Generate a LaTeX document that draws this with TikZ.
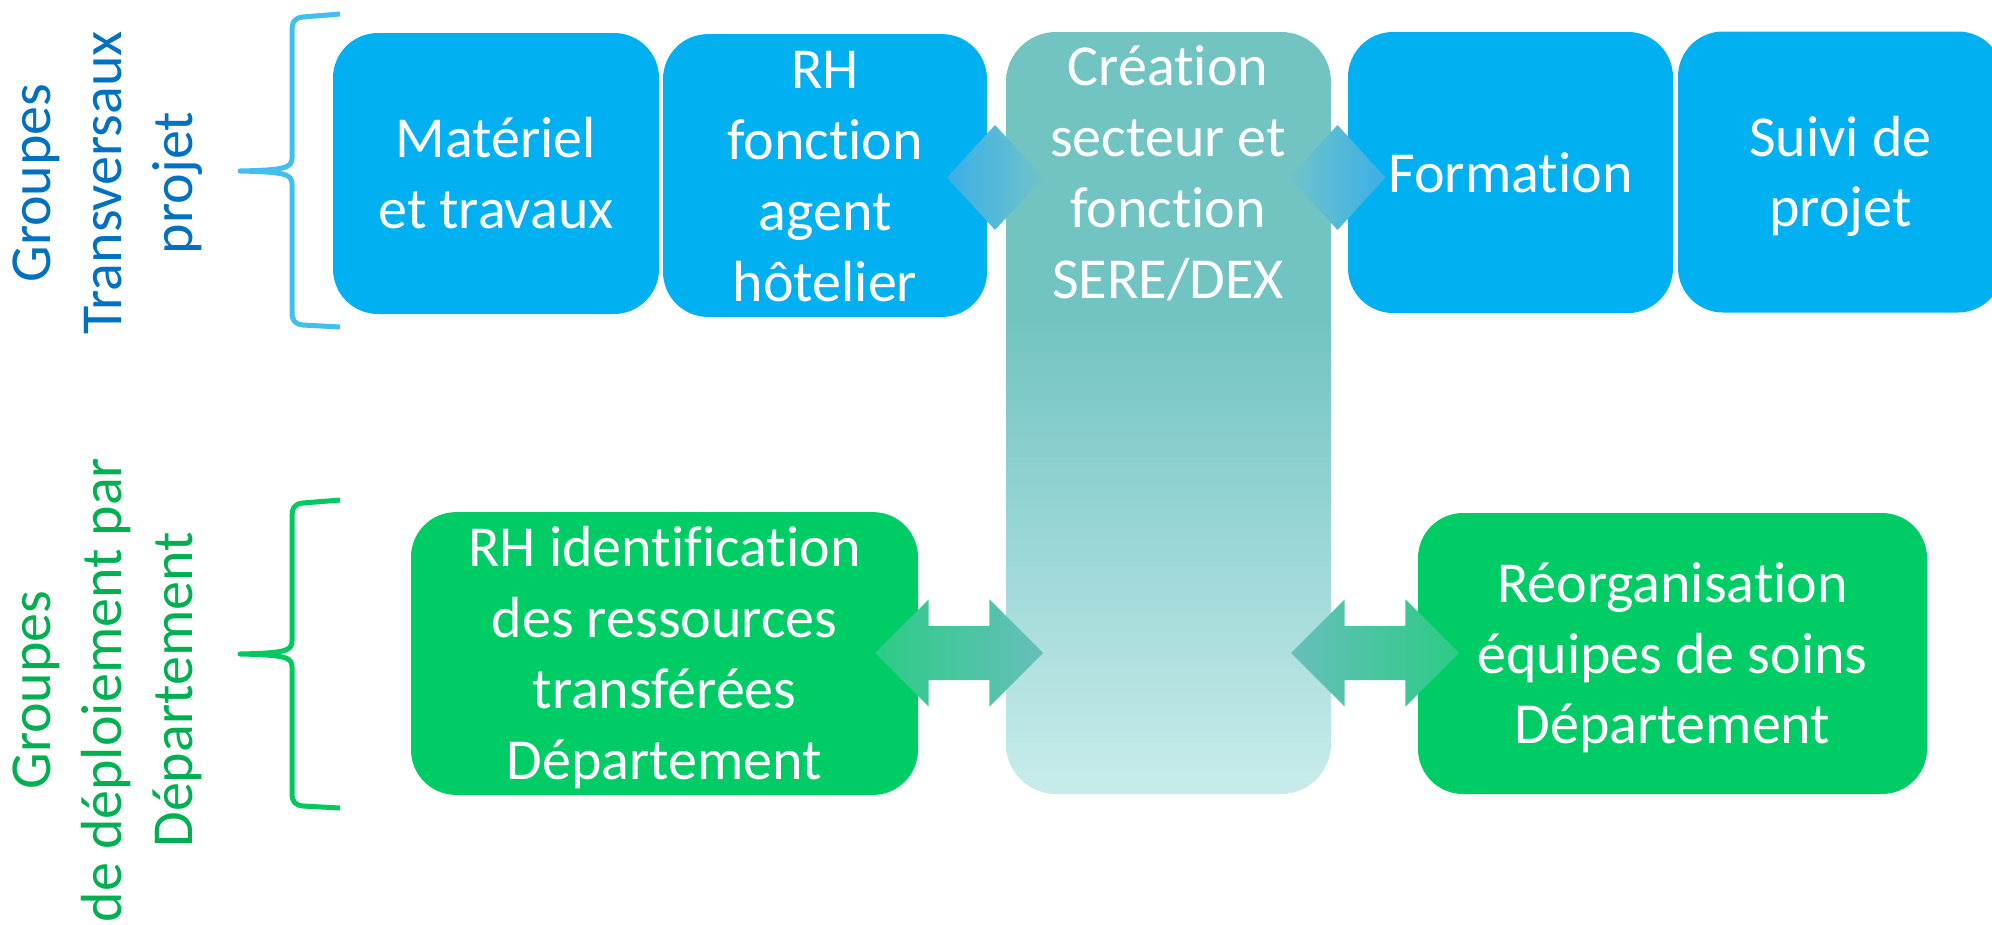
\documentclass[tikz,border=0pt]{standalone}
\usepackage{fontspec}
\setmainfont{Carlito}[Ligatures={NoRequired,NoCommon,NoContextual,NoRare}, RawFeature={-liga;-clig;-dlig;-calt;-rlig;-hlig}]
\usetikzlibrary{shapes.geometric,shapes.arrows}
\definecolor{topblue}{HTML}{00B0F0}
\definecolor{boxgreen}{HTML}{00CC66}
\definecolor{coltop}{HTML}{72C4C3}
\definecolor{colbot}{HTML}{C8ECEB}
\definecolor{dblue}{HTML}{3BAFE8}
\definecolor{dteal}{HTML}{6FC3C8}
\definecolor{agreen}{HTML}{2CCB86}
\definecolor{ateal}{HTML}{66BFBA}
\definecolor{braceblue}{HTML}{42BFEF}
\definecolor{bracegreen}{HTML}{00C95E}
\definecolor{lblblue}{HTML}{0070C0}
\definecolor{lblgreen}{HTML}{00B050}
\pgfdeclareverticalshading{colshade}{100bp}{color(0bp)=(colbot); color(25bp)=(colbot); color(56bp)=(coltop); color(100bp)=(coltop)}
\newcommand\St{\rule[-15.85pt]{0pt}{70.7pt}}
\newcommand\nolig{\kern0pt }
\begin{document}
\begin{tikzpicture}[x=1pt,y=-1pt,
  every node/.style={inner sep=0pt, outer sep=0pt},
  txt/.style={text=white, align=center, font=\fontsize{58}{70.7}\selectfont},
  card/.style={txt, rectangle, rounded corners=45pt},
  bluecard/.style={card, fill=topblue, minimum height=281pt},
  greencard/.style={card, fill=boxgreen, minimum height=281pt},
  colbox/.style={rectangle, rounded corners=50pt, shading=colshade},
  gem/.style={diamond, minimum width=96pt, minimum height=105pt},
  dbl/.style={double arrow, inner xsep=0pt, inner ysep=27pt, double arrow head extend=26.5pt, minimum height=168pt, minimum width=107pt},
  lbl/.style={align=center, rotate=90, font=\fontsize{58}{70.7}\selectfont},
  bracebl/.style={draw=braceblue, line width=5pt, line join=round},
  bracegr/.style={draw=bracegreen, line width=5pt, line join=round}
]
\useasboundingbox (0,0) rectangle (1992,924);
\fill[white] (0,0) rectangle (1992,924);

% braces
\draw[bracebl] (340,14) -- (303,17) .. controls (294,18) and (292,22) .. (292,32) -- (292,158) .. controls (292,168) and (285,170) .. (240,171) .. controls (285,172) and (292,174) .. (292,184) -- (292,312) .. controls (292,321) and (295,324) .. (303,325) -- (340,327);
\draw[bracegr] (340,500) -- (303,503) .. controls (294,504) and (292,508) .. (292,518) -- (292,641) .. controls (292,651) and (285,653) .. (240,654) .. controls (285,655) and (292,657) .. (292,667) -- (292,793) .. controls (292,802) and (295,805) .. (303,806) -- (340,808);

% side labels
\node[lbl, text=lblblue] (gt) at (102,183) {\St Groupes\\\St Transversaux\\\St projet};
\node[lbl, text=lblgreen] (gd) at (102,690) {\St Groupes\\\St de déploiement par\\\St Département};

% top row
\node[bluecard, minimum width=326pt] (mat) at (496,173.5) {\St Matériel\\\St et travaux};
\node[bluecard, minimum width=324pt] (rh) at (825,175.5) {\St RH\\\St fonction\\\St agent\\\St hôtelier};
\node[bluecard, minimum width=325pt] (form) at (1510.5,172.5) {\St Format\nolig ion};
\node[bluecard, minimum width=325pt] (suivi) at (1840.5,172) {\St Suivi de\\\St projet};

% central column
\node[colbox, minimum width=325pt, minimum height=762pt] (col) at (1168.5,413) {};

% bottom row
\node[greencard, minimum width=507pt] (rhid) at (664.5,653.5) {\St RH ident\nolig if\nolig icat\nolig ion\\\St des ressources\\\St transférées\\\St Département};
\node[greencard, minimum width=509pt] (reorg) at (1672.5,653.5) {\St Réorganisat\nolig ion\\\St équipes de soins\\\St Département};

% diamonds
\node[gem, left color=dblue, right color=dteal] (d1) at (995,177.5) {};
\node[gem, left color=dteal, right color=dblue] (d2) at (1337.5,177.5) {};

% column text
\node[txt] (cre) at (1168,172.5) {\St Créat\nolig ion\\\St secteur et\\\St fonct\nolig ion\\\St SERE/DEX};

% double arrows
\node[dbl, left color=agreen, right color=ateal] (a1) at (959,653) {};
\node[dbl, left color=ateal, right color=agreen] (a2) at (1375,653) {};
\end{tikzpicture}
\end{document}
